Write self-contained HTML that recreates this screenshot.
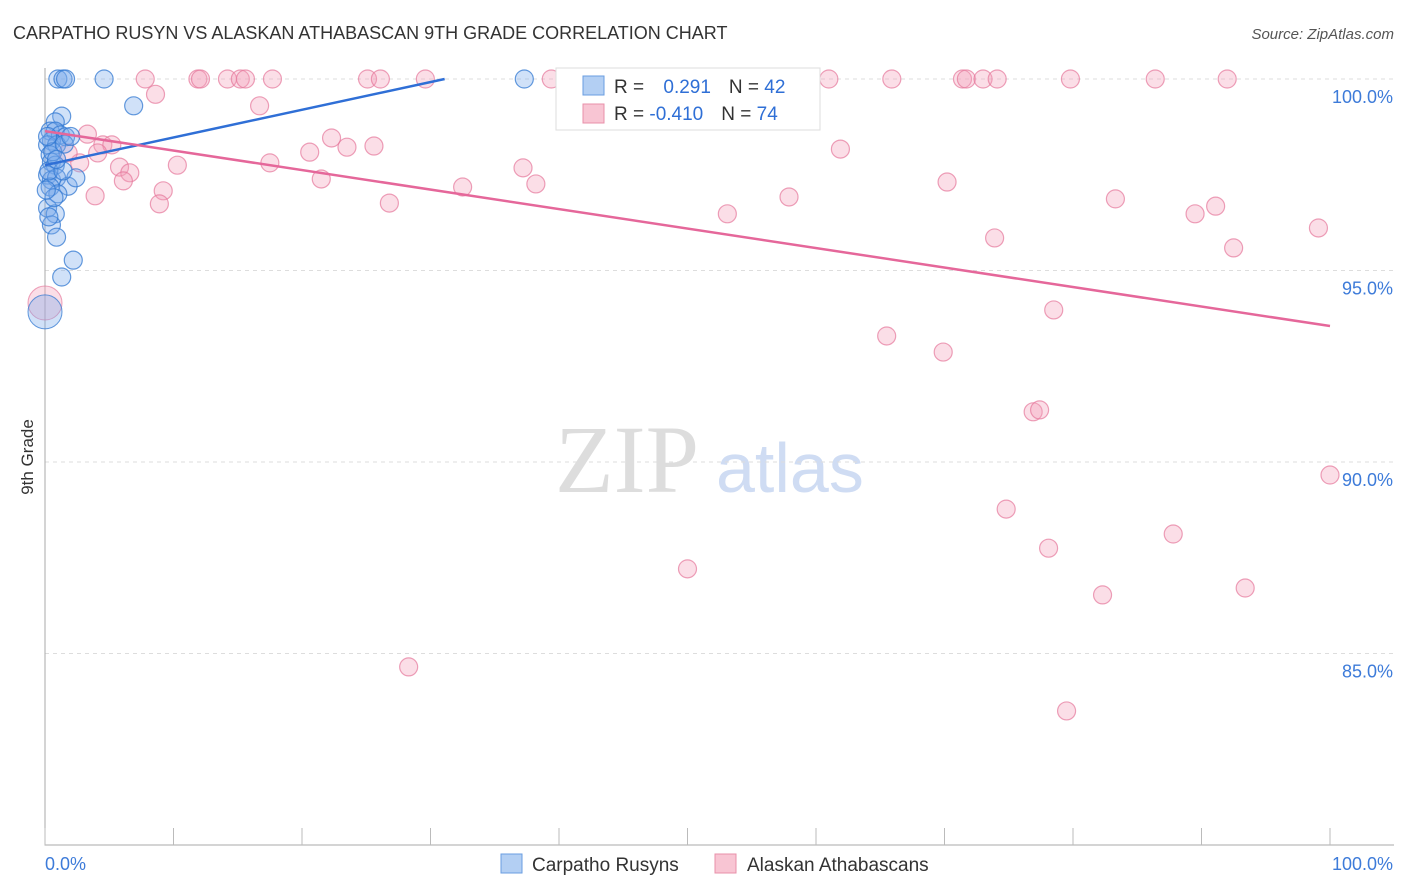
<!DOCTYPE html>
<html><head><meta charset="utf-8"><style>
body{margin:0;background:#fff;font-family:"Liberation Sans",sans-serif}
svg{display:block}
</style></head><body>
<svg id="c" width="1406" height="892">
<text x="13" y="39" font-size="18" fill="#333">CARPATHO RUSYN VS ALASKAN ATHABASCAN 9TH GRADE CORRELATION CHART</text>
<text x="1394" y="39" font-size="15" fill="#555" text-anchor="end" font-style="italic">Source: ZipAtlas.com</text>
<text x="33" y="457" font-size="17" fill="#333" transform="rotate(-90 33 457)" text-anchor="middle">9th Grade</text>
<text x="555" y="492" font-size="96" fill="#ddd" font-family="Liberation Serif,serif">ZIP</text>
<text x="716" y="492" font-size="70" fill="#cfdcf3">atlas</text>
<g id="grid"></g><g id="ticks"></g><g id="pts"></g><g id="lines"></g>
<g>
<rect x="556" y="68" width="264" height="62" fill="#fff" stroke="#ddd"/>
<rect x="583" y="76" width="21" height="19" fill="#b3cff3" stroke="#6a9de0"/>
<rect x="583" y="104" width="21" height="19" fill="#f8c5d3" stroke="#e890aa"/>
<text x="614" y="93" font-size="19" fill="#333">R = <tspan fill="#2f6fd6" dx="14">0.291</tspan><tspan dx="18" fill="#333">N = </tspan><tspan fill="#2f6fd6">42</tspan></text>
<text x="614" y="120" font-size="19" fill="#333">R = <tspan fill="#2f6fd6">-0.410</tspan><tspan dx="18" fill="#333">N = </tspan><tspan fill="#2f6fd6">74</tspan></text>
</g>
<g>
<rect x="501" y="854" width="21" height="19" fill="#b3cff3" stroke="#6a9de0"/>
<text x="532" y="871" font-size="19" fill="#333">Carpatho Rusyns</text>
<rect x="715" y="854" width="21" height="19" fill="#f8c5d3" stroke="#e890aa"/>
<text x="747" y="871" font-size="19" fill="#333">Alaskan Athabascans</text>
</g>
</svg>
<script>
const yTicks=[100,95,90,85];
const xTickLabels=["0.0%","100.0%"];
const blueX=[1.0,1.4,1.6,4.6,37.3,6.9,1.3,0.8,0.4,0.8,1.2,1.6,0.5,0.2,0.9,0.4,0.5,0.8,0.2,0.5,0.9,1.8,2.4,0.4,0.2,0.8,0.5,0.9,2.2,1.3,0.3,0.6,1.0,0.2,1.4,0.7,0.3,1.5,0.9,0.1,2.0];
const blueY=[100,100,100,100,100,99.3,99.03,98.88,98.64,98.64,98.54,98.49,98.38,98.28,98.28,98.02,97.83,97.75,97.49,97.36,97.42,97.2,97.42,97.18,96.63,96.48,96.19,95.87,95.27,94.83,97.6,98.1,97.0,98.5,97.6,96.9,96.4,98.3,97.9,97.1,98.5];
const pinkX=[7.8,11.9,12.1,14.2,15.2,15.6,17.7,25.1,26.1,29.6,39.4,41.2,61.0,65.9,71.4,71.7,73.0,74.1,79.8,86.4,92.0,8.6,16.7,3.3,4.5,5.2,4.1,2.7,1.8,5.8,6.6,6.1,10.3,9.2,8.9,3.9,17.5,20.6,22.3,23.5,25.6,21.5,26.8,32.5,37.2,38.2,53.1,57.9,61.9,70.2,73.9,83.3,89.5,91.1,92.5,99.1,78.5,65.5,69.9,76.9,77.4,100,74.8,78.1,87.8,50.0,82.3,93.4,28.3,79.5];
const pinkY=[100,100,100,100,100,100,100,100,100,100,100,100,100,100,100,100,100,100,100,100,100,99.6,99.3,98.56,98.28,98.28,98.07,97.81,98.07,97.7,97.55,97.34,97.75,97.08,96.74,96.95,97.81,98.09,98.46,98.22,98.25,97.39,96.76,97.18,97.68,97.26,96.48,96.92,98.17,97.31,95.85,96.87,96.48,96.68,95.59,96.11,93.97,93.29,92.87,91.31,91.36,89.66,88.77,87.75,88.12,87.21,86.53,86.71,84.65,83.5];
const blueBig=[0,93.92];
const pinkBig=[0,94.15];
const blueTrend=[[0,97.75],[31.1,100]];
const pinkTrend=[[0,98.64],[100,93.55]];
const X=v=>45+v*12.85, Y=v=>79+(100-v)*38.3;
const NS="http://www.w3.org/2000/svg";
function mk(p,t,a){const e=document.createElementNS(NS,t);for(const k in a)e.setAttribute(k,a[k]);document.getElementById(p).appendChild(e);return e;}
for(const t of yTicks){
 const g=mk('grid','line',{x1:45,x2:1394,y1:Y(t),y2:Y(t),stroke:'#ddd','stroke-dasharray':'4,4'});
 
 
 const l=mk('grid','text',{x:1393,y:Y(t)+24,'font-size':18,fill:'#3d7bd9','text-anchor':'end'});l.textContent=t.toFixed(1)+'%';
 
 
}
const ax=mk('ticks','path',{d:'M45 68V845H1394',stroke:'#aaa',fill:'none'});


for(let i=0;i<=10;i++){const t=mk('ticks','line',{x1:X(i*10),x2:X(i*10),y1:828,y2:845,stroke:'#bbb'});
 
 }
const xl0=mk('ticks','text',{x:45,y:870,'font-size':18,fill:'#3d7bd9'});xl0.textContent=xTickLabels[0];


const xl1=mk('ticks','text',{x:1393,y:870,'font-size':18,fill:'#3d7bd9','text-anchor':'end'});xl1.textContent=xTickLabels[1];


function dots(xs,ys,fill,stroke,name){for(let i=0;i<xs.length;i++){const c=mk('pts','circle',{cx:X(xs[i]),cy:Y(ys[i]),r:9,fill:fill,stroke:stroke,'stroke-width':1.2});
 
 }}
dots(pinkX,pinkY,'rgba(244,160,185,0.35)','rgba(230,120,155,0.7)','pink-point');
dots(blueX,blueY,'rgba(120,170,235,0.35)','rgba(50,120,210,0.75)','blue-point');
const pb=mk('pts','circle',{cx:X(pinkBig[0]),cy:Y(pinkBig[1]),r:17,fill:'rgba(244,160,185,0.35)',stroke:'rgba(230,120,155,0.7)'});


const bb=mk('pts','circle',{cx:X(blueBig[0]),cy:Y(blueBig[1]),r:17,fill:'rgba(120,170,235,0.35)',stroke:'rgba(50,120,210,0.75)'});


const bt=mk('lines','line',{x1:X(blueTrend[0][0]),y1:Y(blueTrend[0][1]),x2:X(blueTrend[1][0]),y2:Y(blueTrend[1][1]),stroke:'#2f6fd6','stroke-width':2.5});


const pt=mk('lines','line',{x1:X(pinkTrend[0][0]),y1:Y(pinkTrend[0][1]),x2:X(pinkTrend[1][0]),y2:Y(pinkTrend[1][1]),stroke:'#e5679a','stroke-width':2.5});


</script>
</body></html>
